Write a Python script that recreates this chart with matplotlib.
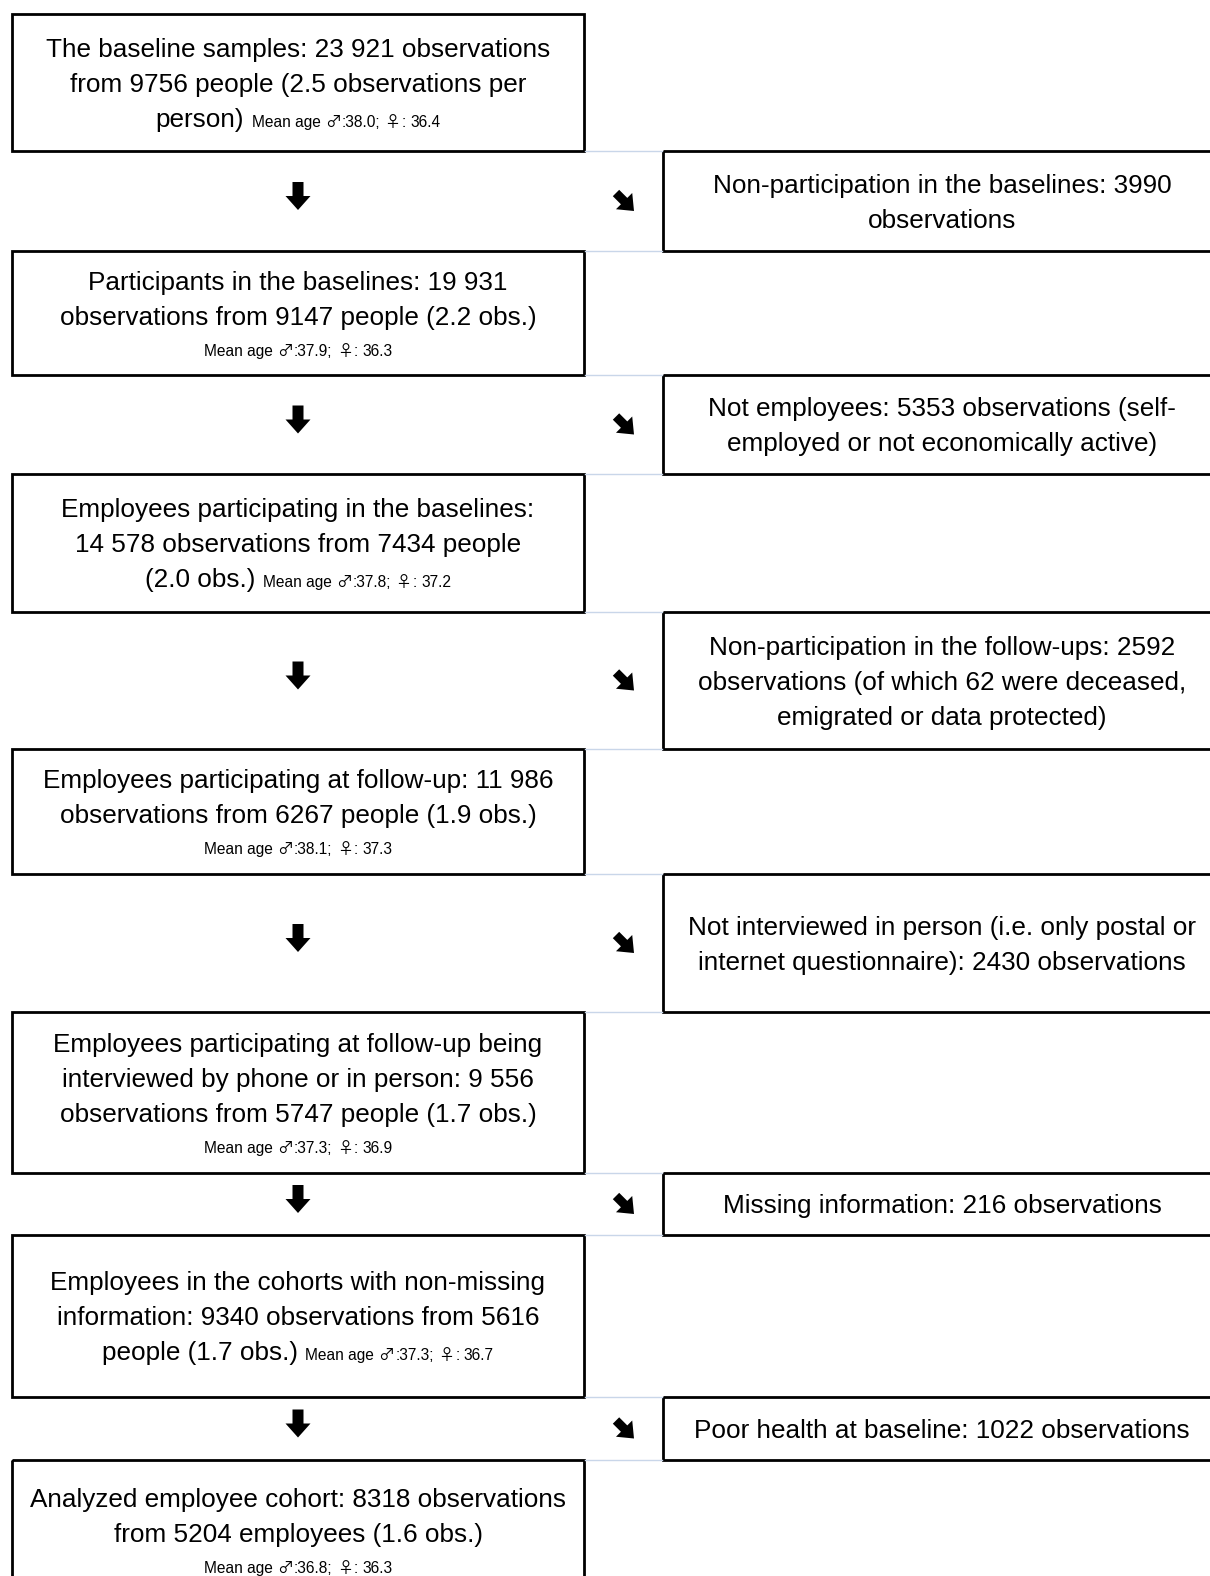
import matplotlib.pyplot as plt
from matplotlib.patches import Rectangle, FancyArrow

# flow steps (left column), last line may carry the mean age inline
steps = [
    ["The baseline samples: 23 921 observations",
     "from 9756 people (2.5 observations per", "person)"],
    ["Participants in the baselines: 19 931",
     "observations from 9147 people (2.2 obs.)"],
    ["Employees participating in the baselines:",
     "14 578 observations from 7434 people", "(2.0 obs.)"],
    ["Employees participating at follow-up: 11 986",
     "observations from 6267 people (1.9 obs.)"],
    ["Employees participating at follow-up being",
     "interviewed by phone or in person: 9 556",
     "observations from 5747 people (1.7 obs.)"],
    ["Employees in the cohorts with non-missing",
     "information: 9340 observations from 5616", "people (1.7 obs.)"],
    ["Analyzed employee cohort: 8318 observations",
     "from 5204 employees (1.6 obs.)"],
]
age_male = [38.0, 37.9, 37.8, 38.1, 37.3, 37.3, 36.8]
age_female = [36.4, 36.3, 37.2, 37.3, 36.9, 36.7, 36.3]
age_inline = [True, False, True, False, False, True, False]

# exclusions (right column)
exclusions = [
    ["Non-participation in the baselines: 3990", "observations"],
    ["Not employees: 5353 observations (self-",
     "employed or not economically active)"],
    ["Non-participation in the follow-ups: 2592",
     "observations (of which 62 were deceased,",
     "emigrated or data protected)"],
    ["Not interviewed in person (i.e. only postal or",
     "internet questionnaire): 2430 observations"],
    ["Missing information: 216 observations"],
    ["Poor health at baseline: 1022 observations"],
]

FONT = ['Liberation Sans', 'DejaVu Sans']
SYMFONT = ['Noto Sans CJK JP', 'DejaVu Sans']
BIG, SMALL, SYM = 18.8, 11.2, 11.5

# layout in pixels
left_x0, left_x1 = 12, 584
right_x0, right_x1 = 663, 1221
left_rows = [(14, 151), (251, 375), (474, 612), (749, 874),
             (1012, 1173), (1235, 1397), (1460, 1600)]

fig = plt.figure(figsize=(12.1, 15.76), dpi=100)
ax = fig.add_axes([0, 0, 1, 1])
ax.set_xlim(0, 1210)
ax.set_ylim(1576, 0)
ax.axis('off')
renderer = fig.canvas.get_renderer()


def text_width(s, size, fam=FONT):
    t = ax.text(0, 0, s, fontsize=size, family=fam)
    w = t.get_window_extent(renderer).width
    t.remove()
    return w


def space(size):
    return text_width('a a', size) - text_width('aa', size)


def age_segments(m, f):
    sp = space(SMALL)
    return [("Mean age", SMALL, FONT, 0), ("\u2642", SYM, SYMFONT, sp),
            (f":{m:.1f};", SMALL, FONT, 1), ("\u2640", SYM, SYMFONT, sp),
            (":", SMALL, FONT, 1), (f"{f:.1f}", SMALL, FONT, sp)]


def draw_lines(cx, top, bottom, lines):
    pitches = [35 if any(seg[1] == BIG for seg in ln) else 30 for ln in lines]
    y = (top + bottom) / 2 - sum(pitches) / 2
    for ln, p in zip(lines, pitches):
        base = y + p * 0.76
        widths = [text_width(s, sz, fam) for s, sz, fam, _ in ln]
        gaps = [g for *_, g in ln]
        gaps[0] = 0
        x = cx - (sum(widths) + sum(gaps)) / 2
        for (s, sz, fam, _), w, g in zip(ln, widths, gaps):
            x += g
            ax.text(x, base, s, fontsize=sz, family=fam,
                    ha='left', va='baseline', color='black')
            x += w
        y += p


for i, (top, bottom) in enumerate(left_rows):
    ax.add_patch(Rectangle((left_x0, top), left_x1 - left_x0, bottom - top,
                           fill=False, ec='black', lw=2))
    lines = [[(s, BIG, FONT, 0)] for s in steps[i]]
    age = age_segments(age_male[i], age_female[i])
    if age_inline[i]:
        age[0] = (age[0][0], SMALL, FONT, space(BIG))
        lines[-1] += age
    else:
        lines.append(age)
    draw_lines((left_x0 + left_x1) / 2, top, bottom, lines)

for i, ex in enumerate(exclusions):
    top = left_rows[i][1]
    bottom = left_rows[i + 1][0]
    mid = (top + bottom) / 2
    ax.add_patch(Rectangle((right_x0, top), right_x1 - right_x0, bottom - top,
                           fill=False, ec='black', lw=2))
    draw_lines((right_x0 + right_x1) / 2, top, bottom,
               [[(s, BIG, FONT, 0)] for s in ex])
    # faint table grid between the columns
    for yy in (top, bottom):
        ax.plot([left_x1 + 1, right_x0 - 1], [yy, yy], color='#c9d6e9', lw=1)
    ax.add_patch(FancyArrow((left_x0 + left_x1) / 2, mid - 19, 0, 28, width=11,
                            head_width=25, head_length=14,
                            length_includes_head=True, fc='black', ec='none'))
    ax.add_patch(FancyArrow(616, mid - 8, 18, 18, width=9, head_width=23,
                            head_length=14, length_includes_head=True,
                            fc='black', ec='none'))

fig.savefig('out.png', dpi=100)
